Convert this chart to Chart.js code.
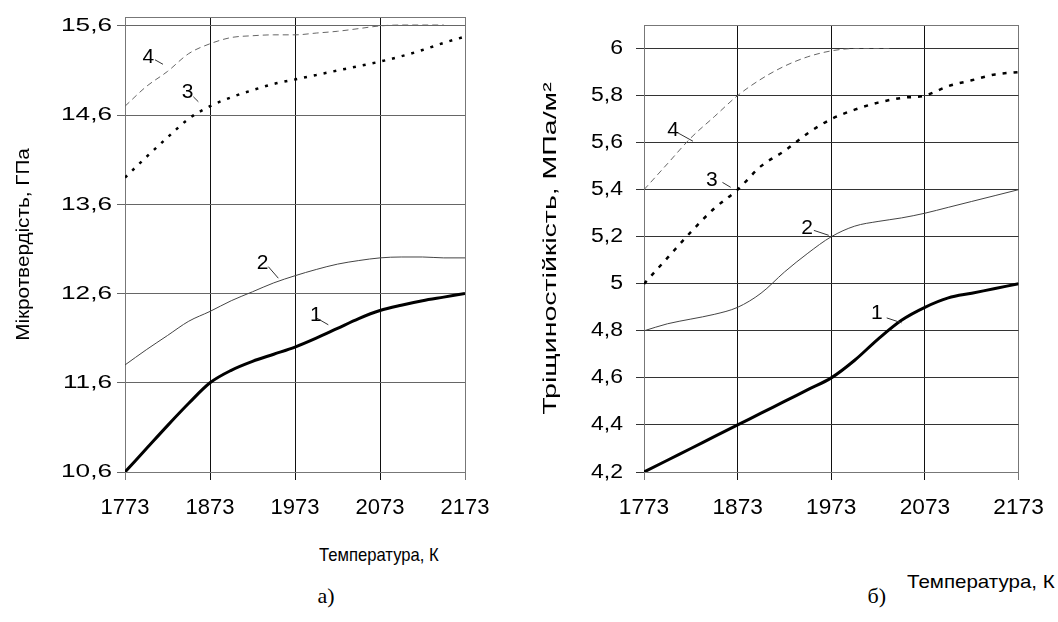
<!DOCTYPE html>
<html lang="uk">
<head>
<meta charset="utf-8">
<title>Мікротвердість і тріщиностійкість</title>
<script src="https://cdn.jsdelivr.net/npm/chart.js@4.4.1/dist/chart.umd.min.js"></script>
<style>
  html, body { margin: 0; padding: 0; background: #fff; }
  #page { position: relative; width: 1058px; height: 622px; overflow: hidden; font-family: "Liberation Sans", Arial, sans-serif; color: #000; }
  .panel { position: absolute; top: 0; }
  .panel canvas { display: block; }
  .label { position: absolute; white-space: nowrap; transform-origin: 0 0; line-height: 1; font-size: 19px; }
  .caption { font-family: "Liberation Serif", "Times New Roman", serif; font-size: 22px; }
</style>
</head>
<body>
<div id="page">
  <div class="panel" style="left:0"><canvas id="hardness" width="530" height="540"></canvas></div>
  <div class="panel" style="left:530px"><canvas id="toughness" width="528" height="540"></canvas></div>
  <div class="label" id="xTitleA">Температура, К</div>
  <div class="label" id="xTitleB">Температура, К</div>
  <div class="label caption" id="capA">а)</div>
  <div class="label caption" id="capB">б)</div>
</div>
<script>
// temperature grid, K
const temps = [1773, 1798, 1823, 1848, 1873, 1898, 1923, 1948, 1973, 1998, 2023, 2048, 2073, 2098, 2123, 2148, 2173];
const tempTicks = [1773, 1873, 1973, 2073, 2173];

// а) micro-hardness, GPa, curves 1-4
const hard1 = [10.6, 10.86, 11.12, 11.37, 11.6, 11.74, 11.84, 11.92, 12.0, 12.1, 12.21, 12.32, 12.41, 12.47, 12.52, 12.56, 12.6];
const hard2 = [11.8, 11.97, 12.13, 12.29, 12.4, 12.52, 12.62, 12.72, 12.8, 12.87, 12.93, 12.97, 13.0, 13.01, 13.01, 13.0, 13.0];
const hard3 = [13.9, 14.13, 14.35, 14.56, 14.7, 14.8, 14.88, 14.95, 15.0, 15.05, 15.1, 15.15, 15.2, 15.26, 15.33, 15.41, 15.48];
const hard4 = [14.7, 14.92, 15.09, 15.29, 15.4, 15.47, 15.49, 15.5, 15.5, 15.52, 15.54, 15.57, 15.6, 15.61, 15.61, 15.61, null];
const hardTicks = [10.6, 11.6, 12.6, 13.6, 14.6, 15.6];

// б) fracture toughness, MPa/m^2, curves 1-4
const tough1 = [4.2, 4.25, 4.3, 4.35, 4.4, 4.45, 4.5, 4.55, 4.6, 4.675, 4.765, 4.845, 4.9, 4.94, 4.96, 4.98, 5.0];
const tough2 = [4.8, 4.83, 4.85, 4.87, 4.9, 4.96, 5.05, 5.13, 5.2, 5.245, 5.265, 5.28, 5.3, 5.325, 5.35, 5.375, 5.4];
const tough3 = [5.0, 5.11, 5.22, 5.32, 5.4, 5.5, 5.565, 5.64, 5.7, 5.74, 5.77, 5.79, 5.8, 5.84, 5.865, 5.89, 5.9];
const tough4Temps = [1773, 1798, 1823, 1848, 1873, 1898, 1923, 1948, 1973, 1998, 2023, 2035];
const tough4 = [5.4, 5.51, 5.62, 5.71, 5.8, 5.87, 5.925, 5.965, 5.99, 6.0, 6.0, 6.0];
const toughTicks = [4.2, 4.4, 4.6, 4.8, 5, 5.2, 5.4, 5.6, 5.8, 6];

const comma = v => String(v).replace('.', ',');
const points = (xs, ys) => xs.map((t, i) => ({ x: t, y: ys[i] }));

// the lettering in this figure is set wide; stretch each text run by a factor picked by font size
function widenText(canvas, factors) {
  const ctx = canvas.getContext('2d');
  const fill = ctx.fillText;
  ctx.fillText = function (text, x, y, maxWidth) {
    const m = /(\d+(?:\.\d+)?)px/.exec(this.font);
    const k = (m && factors[m[1]]) || 1;
    if (k === 1) return fill.call(this, text, x, y);
    this.save();
    this.translate(x, y);
    this.scale(k, 1);
    fill.call(this, text, 0, 0);
    this.restore();
  };
}

// curve numbers with their short leader strokes, plus the top edge of the frame
function curveNotes(notes, size, frameColor) {
  return {
    id: 'curveNotes',
    afterDatasetsDraw(chart) {
      const { ctx, chartArea: a } = chart;
      const x = chart.scales.x, y = chart.scales.y;
      ctx.save();
      ctx.lineWidth = 1;
      ctx.strokeStyle = frameColor;
      ctx.beginPath();
      ctx.moveTo(a.left, Math.round(a.top) + 0.5);
      ctx.lineTo(a.right, Math.round(a.top) + 0.5);
      ctx.stroke();
      ctx.font = size + 'px "Liberation Sans"';
      ctx.fillStyle = '#000';
      ctx.strokeStyle = '#333';
      ctx.textAlign = 'center';
      ctx.textBaseline = 'middle';
      notes.forEach(n => {
        ctx.fillText(n.text, x.getPixelForValue(n.at[0]), y.getPixelForValue(n.at[1]));
        ctx.beginPath();
        ctx.moveTo(x.getPixelForValue(n.from[0]), y.getPixelForValue(n.from[1]));
        ctx.lineTo(x.getPixelForValue(n.to[0]), y.getPixelForValue(n.to[1]));
        ctx.stroke();
      });
      ctx.restore();
    }
  };
}

function lineSet(xs, ys, style) {
  return Object.assign({
    data: points(xs, ys),
    pointRadius: 0,
    fill: false,
    cubicInterpolationMode: 'monotone',
    borderCapStyle: 'butt',
    spanGaps: false
  }, style);
}

function makeChart(canvasId, cfg) {
  return new Chart(document.getElementById(canvasId), {
    type: 'line',
    data: { datasets: cfg.datasets },
    options: {
      responsive: false,
      animation: false,
      events: [],
      layout: { padding: cfg.padding },
      plugins: { legend: { display: false }, tooltip: { enabled: false } },
      scales: {
        x: {
          type: 'linear',
          min: 1773,
          max: 2173,
          afterFit: s => { s.height = 60; },
          afterBuildTicks: s => { s.ticks = tempTicks.map(v => ({ value: v })); },
          ticks: {
            color: '#000',
            padding: cfg.xTickPad,
            maxRotation: 0,
            font: { family: 'Liberation Sans', size: cfg.xTickSize },
            callback: v => String(v)
          },
          grid: {
            color: c => (c.index === 0 || c.index === tempTicks.length - 1) ? '#777' : '#111',
            tickLength: 8
          },
          border: { color: '#777' }
        },
        y: {
          min: cfg.yMin,
          max: cfg.yMax,
          afterFit: s => { s.width = cfg.yWidth; },
          afterBuildTicks: s => { s.ticks = cfg.yTicks.map(v => ({ value: v })); },
          ticks: {
            color: '#000',
            padding: cfg.yTickPad,
            font: { family: 'Liberation Sans', size: cfg.yTickSize },
            callback: v => comma(v)
          },
          grid: { color: cfg.yGridColor, tickLength: 8 },
          border: { color: '#777' },
          title: {
            display: true,
            text: cfg.yTitle,
            color: '#000',
            font: { family: 'Liberation Sans', size: cfg.yTitleSize },
            padding: { top: cfg.yTitlePad, bottom: 0 }
          }
        }
      }
    },
    plugins: [curveNotes(cfg.notes, cfg.noteSize, '#777')]
  });
}

widenText(document.getElementById('hardness'), { 19: 1.38, 22: 1.0, 18: 1.15, 20: 1.05 });
widenText(document.getElementById('toughness'), { 20: 1.15, 22: 1.03, 19: 1.5, 21: 1.0 });

makeChart('hardness', {
  padding: { left: 0, right: 65, top: 17, bottom: 8 },
  yMin: 10.6, yMax: 15.7, yTicks: hardTicks, yWidth: 125,
  yTickSize: 19, yTickPad: 5, xTickSize: 22, xTickPad: 15,
  yGridColor: '#666',
  yTitle: 'Мікротвердість, ГПа', yTitleSize: 18, yTitlePad: 13,
  noteSize: 20,
  datasets: [
    lineSet(temps, hard1, { borderColor: '#000', borderWidth: 3 }),
    lineSet(temps, hard2, { borderColor: '#444', borderWidth: 1 }),
    lineSet(temps, hard3, { borderColor: '#000', borderWidth: 2.5, borderDash: [3, 7] }),
    lineSet(temps, hard4, { borderColor: '#666', borderWidth: 1, borderDash: [6, 4] })
  ],
  notes: [
    { text: '4', at: [1800.6, 15.245], from: [1808.3, 15.22], to: [1817.7, 15.17] },
    { text: '3', at: [1846.5, 14.853], from: [1853.4, 14.806], to: [1859.3, 14.75] },
    { text: '2', at: [1934.8, 12.933], from: [1941.6, 12.902], to: [1953.4, 12.772] },
    { text: '1', at: [1997.5, 12.353], from: [1998.5, 12.325], to: [2012.2, 12.25] }
  ]
});

makeChart('toughness', {
  padding: { left: 0, right: 37, top: 19, bottom: 8 },
  yMin: 4.2, yMax: 6.1, yTicks: toughTicks, yWidth: 114,
  yTickSize: 20, yTickPad: 13, xTickSize: 22, xTickPad: 15,
  yGridColor: '#333',
  yTitle: 'Тріщиностійкість, МПа/м²', yTitleSize: 19, yTitlePad: 9,
  noteSize: 21,
  datasets: [
    lineSet(temps, tough1, { borderColor: '#000', borderWidth: 3 }),
    lineSet(temps, tough2, { borderColor: '#444', borderWidth: 1 }),
    lineSet(temps, tough3, { borderColor: '#000', borderWidth: 2.5, borderDash: [4, 7] }),
    lineSet(tough4Temps, tough4, { borderColor: '#666', borderWidth: 1, borderDash: [6, 4] })
  ],
  notes: [
    { text: '4', at: [1804.1, 5.652], from: [1809.4, 5.641], to: [1825.3, 5.606] },
    { text: '3', at: [1845.4, 5.441], from: [1856.8, 5.431], to: [1865.6, 5.41] },
    { text: '2', at: [1947.3, 5.238], from: [1954.4, 5.227], to: [1970.3, 5.206] },
    { text: '1', at: [2021.6, 4.873], from: [2032.2, 4.855], to: [2048.1, 4.834] }
  ]
});

// axis captions under the plots and the panel letters
function place(id, cx, cy, width) {
  const el = document.getElementById(id);
  const w = el.offsetWidth, h = el.offsetHeight;
  const k = width ? width / w : 1;
  el.style.left = (cx - w * k / 2) + 'px';
  el.style.top = (cy - h / 2) + 'px';
  el.style.transform = 'scaleX(' + k + ')';
}
place('xTitleA', 379, 554, 120);
place('xTitleB', 981, 581, 148);
place('capA', 326, 596);
place('capB', 877, 596);
</script>
</body>
</html>
